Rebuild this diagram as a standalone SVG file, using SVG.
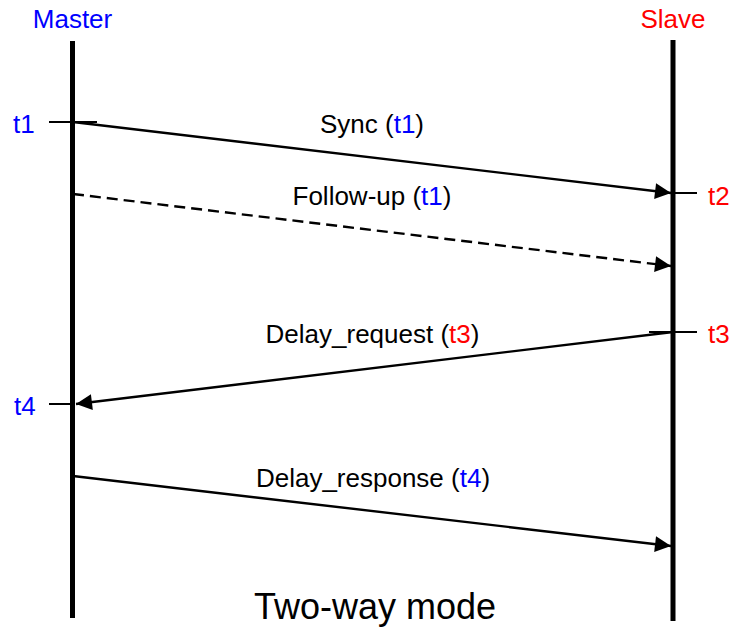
<svg xmlns="http://www.w3.org/2000/svg" width="734" height="629" viewBox="0 0 734 629">
  <style>
    text { font-family: "Liberation Sans", Arial, sans-serif; font-size: 26px; fill: #000; }
    .blue { fill: #0000ff; }
    .red { fill: #ff0000; }
    .life { stroke: #000; stroke-width: 5; fill: none; }
    .tick { stroke: #000; stroke-width: 2; fill: none; }
    .msg { stroke: #000; stroke-width: 2.4; fill: none; marker-end: url(#arrow); }
    .dashed { stroke-dasharray: 11 6; }
    .title { font-size: 36px; }
  </style>
  <defs>
    <marker id="arrow" markerUnits="userSpaceOnUse" markerWidth="20" markerHeight="18" refX="17" refY="8.5" orient="auto">
      <path d="M1,0.5 L17,8.5 L1,16.5 Z" fill="#000"/>
    </marker>
  </defs>
  <rect width="734" height="629" fill="#fff"/>

  <!-- Master lifeline -->
  <g id="master">
    <text class="blue" x="72.5" y="27.5" text-anchor="middle">Master</text>
    <line class="life" x1="72.5" y1="41" x2="72.5" y2="618"/>
    <line class="tick" x1="49" y1="122" x2="97" y2="122"/>
    <text class="blue" x="13" y="133">t1</text>
    <line class="tick" x1="49" y1="404" x2="73" y2="404"/>
    <text class="blue" x="14" y="415">t4</text>
  </g>

  <!-- Slave lifeline -->
  <g id="slave">
    <text class="red" x="673" y="27.5" text-anchor="middle">Slave</text>
    <line class="life" x1="673" y1="40" x2="673" y2="621"/>
    <line class="tick" x1="672" y1="193" x2="697" y2="193"/>
    <text class="red" x="708" y="205">t2</text>
    <line class="tick" x1="649" y1="332" x2="697" y2="332"/>
    <text class="red" x="708" y="343">t3</text>
  </g>

  <!-- Messages -->
  <g id="connectors">
    <line class="msg" x1="73" y1="122" x2="671" y2="193"/>
    <line class="msg dashed" x1="73" y1="194" x2="671" y2="266"/>
    <line class="msg" x1="673" y1="332" x2="76" y2="404"/>
    <line class="msg" x1="73" y1="476" x2="671" y2="546"/>
  </g>

  <!-- Message labels -->
  <g id="labels">
    <text x="372" y="133" text-anchor="middle">Sync (<tspan class="blue">t1</tspan>)</text>
    <text x="372" y="205" text-anchor="middle">Follow-up (<tspan class="blue">t1</tspan>)</text>
    <text x="372.5" y="343" text-anchor="middle">Delay_request (<tspan class="red">t3</tspan>)</text>
    <text x="373" y="486.5" text-anchor="middle">Delay_response (<tspan class="blue">t4</tspan>)</text>
  </g>

  <text class="title" x="375" y="619" text-anchor="middle">Two-way mode</text>
</svg>
